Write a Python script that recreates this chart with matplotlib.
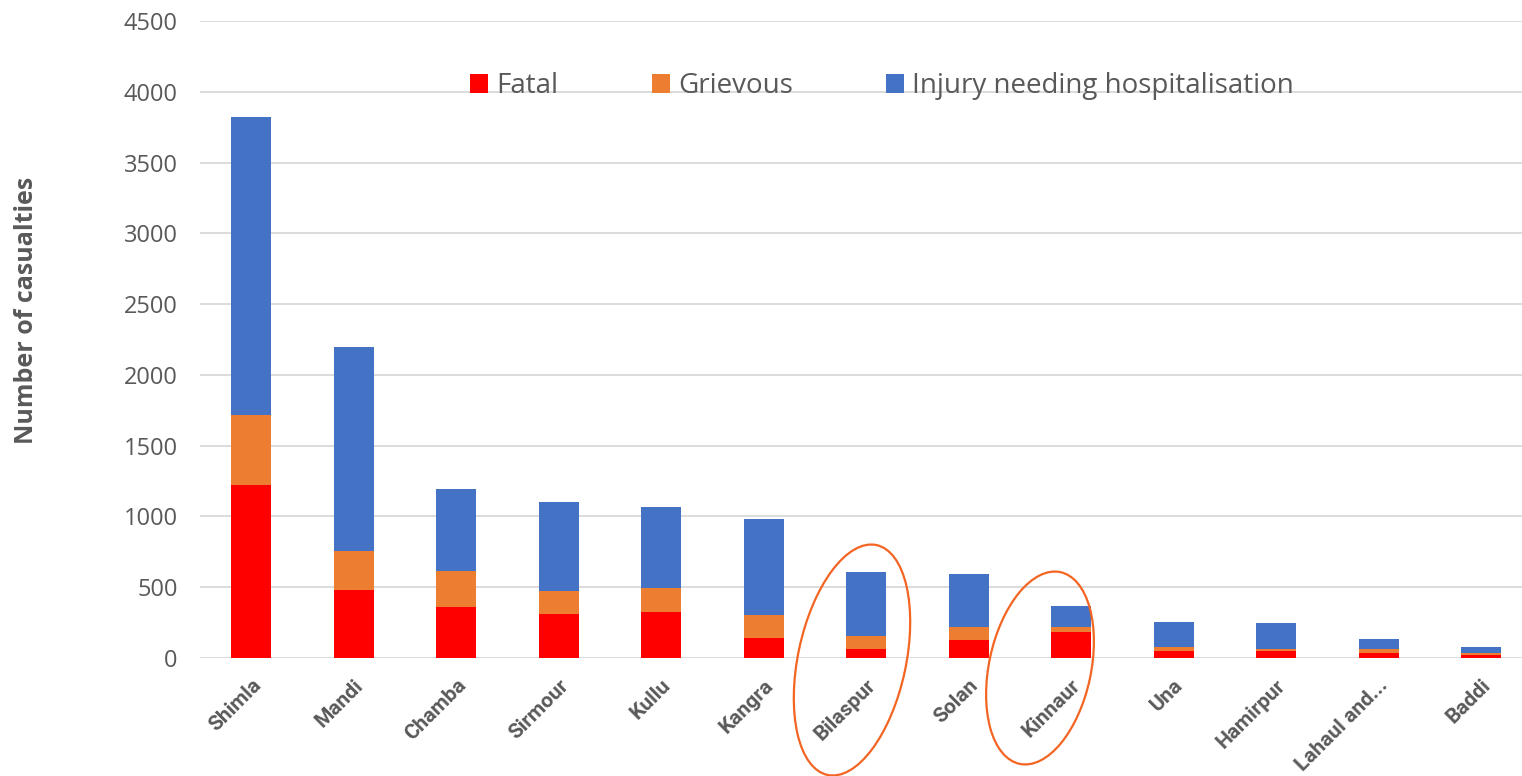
import numpy as np
import matplotlib
matplotlib.use("Agg")
import matplotlib.pyplot as plt
from matplotlib.patches import Ellipse

# ---------------- data ----------------
districts = ["Shimla", "Mandi", "Chamba", "Sirmour", "Kullu", "Kangra", "Bilaspur",
             "Solan", "Kinnaur", "Una", "Hamirpur", "Lahaul and...", "Baddi"]
fatal = [1220, 480, 360, 310, 320, 140, 65, 125, 180, 45, 45, 30, 20]
grievous = [495, 275, 255, 160, 170, 160, 85, 95, 40, 30, 20, 30, 12]
injury = [2110, 1440, 575, 630, 575, 680, 455, 370, 145, 180, 180, 70, 43]

RED = "#FF0000"
ORANGE = "#ED7D31"
BLUE = "#4472C4"
GREY = "#595959"

plt.rcParams['font.family'] = ['Open Sans', 'DejaVu Sans']

fig = plt.figure(figsize=(15.22, 7.76), dpi=100)
ax = fig.add_axes([200/1522, 1 - 657.7/776, 1322/1522, (657.7 - 21.4)/776])

x = np.arange(len(districts))
fatal = np.array(fatal)
grievous = np.array(grievous)
injury = np.array(injury)
w = 0.39
ax.bar(x, fatal, w, color=RED, label="Fatal", zorder=3)
ax.bar(x, grievous, w, bottom=fatal, color=ORANGE, label="Grievous", zorder=3)
ax.bar(x, injury, w, bottom=fatal + grievous, color=BLUE,
       label="Injury needing hospitalisation", zorder=3)

ax.set_ylim(0, 4500)
ax.set_xlim(-0.5, 12.4)
ax.set_yticks(np.arange(0, 4501, 500))
ax.yaxis.grid(True, color="#D9D9D9", linewidth=1.3, zorder=0)
ax.set_axisbelow(True)
for s in ax.spines.values():
    s.set_visible(False)
ax.tick_params(axis="both", length=0, colors=GREY)
ax.tick_params(axis="y", labelsize=17, pad=16)
ax.set_xticks(x)
ax.set_xticklabels(districts, rotation=45, ha="right", rotation_mode="anchor",
                   fontsize=15, fontweight="bold", color=GREY,
                   family=["Roboto", "DejaVu Sans"])
ax.tick_params(axis="x", pad=13)

fig.text(27/1522, 1 - 310/776, "Number of casualties", rotation=90, ha="center",
         va="center", fontsize=18, fontweight="bold", color=GREY)

leg = ax.legend(loc="center", bbox_to_anchor=(882/1522, 1 - 86/776),
                bbox_transform=fig.transFigure, ncol=3, frameon=False,
                fontsize=20, handlelength=0.65, handleheight=0.65,
                handletextpad=0.3, columnspacing=3.35)
for t in leg.get_texts():
    t.set_color(GREY)

# circled districts
for cx, cy, major, minor in [(852, 660, 2.35, 1.08), (1040, 668, 1.96, 1.02)]:
    e = Ellipse((cx/100, (776 - cy)/100), major, minor, angle=78,
                transform=fig.dpi_scale_trans, fill=False,
                edgecolor="#F26522", linewidth=1.6, clip_on=False)
    fig.add_artist(e)

fig.savefig("out.png", dpi=100)
